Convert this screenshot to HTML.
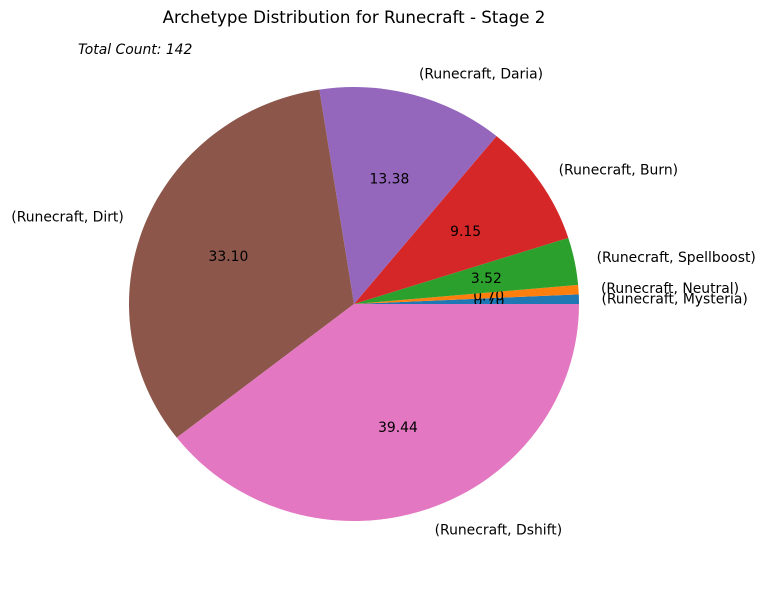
<!DOCTYPE html>
<html><head><meta charset="utf-8"><style>
html,body{margin:0;padding:0;background:#fff;}
svg{display:block;font-family:"DejaVu Sans","Liberation Sans",sans-serif;}
</style></head><body>
<svg id="chart" width="766" height="590">
<text x="354" y="23" text-anchor="middle" font-size="16.7">Archetype Distribution for Runecraft - Stage 2</text>
<text x="78" y="54" font-size="13.9" font-style="italic">Total Count: 142</text>
<g id="slices"></g>
</svg>
<script>
const categories = ["(Runecraft, Mysteria)","(Runecraft, Neutral)","(Runecraft, Spellboost)","(Runecraft, Burn)","(Runecraft, Daria)","(Runecraft, Dirt)","(Runecraft, Dshift)"];
const counts = [1,1,5,13,19,47,56];
const colors = ["#1f77b4","#ff7f0e","#2ca02c","#d62728","#9467bd","#8c564b","#e377c2"];
const cx=354, cy=304, RX=225, RY=217;
const total = counts.reduce((a,b)=>a+b,0);
const g = document.getElementById('slices');
const NS="http://www.w3.org/2000/svg";
let a0=0;
counts.forEach((c,i)=>{
  const frac=c/total, a1=a0+frac*2*Math.PI;
  const x0=cx+RX*Math.cos(a0), y0=cy-RY*Math.sin(a0);
  const x1=cx+RX*Math.cos(a1), y1=cy-RY*Math.sin(a1);
  const p=document.createElementNS(NS,'path');
  p.setAttribute('d',`M${cx},${cy} L${x0},${y0} A${RX},${RY} 0 ${frac>0.5?1:0} 0 ${x1},${y1} Z`);
  p.setAttribute('fill',colors[i]);
  
  
  g.appendChild(p);
  const am=(a0+a1)/2;
  const lx=cx+1.1*RX*Math.cos(am), ly=cy-1.1*RY*Math.sin(am);
  const t=document.createElementNS(NS,'text');
  t.setAttribute('x',lx); t.setAttribute('y',ly+5);
  t.setAttribute('font-size','13.9');
  t.setAttribute('text-anchor',Math.cos(am)>=0?'start':'end');
  t.textContent=categories[i];
  
  
  g.appendChild(t);
  const px=cx+0.6*RX*Math.cos(am), py=cy-0.6*RY*Math.sin(am);
  const v=document.createElementNS(NS,'text');
  v.setAttribute('x',px); v.setAttribute('y',py+5);
  v.setAttribute('font-size','13.9');
  v.setAttribute('text-anchor','middle');
  v.textContent=(frac*100).toFixed(2);
  
  
  g.appendChild(v);
  a0=a1;
});
</script>
</body></html>
